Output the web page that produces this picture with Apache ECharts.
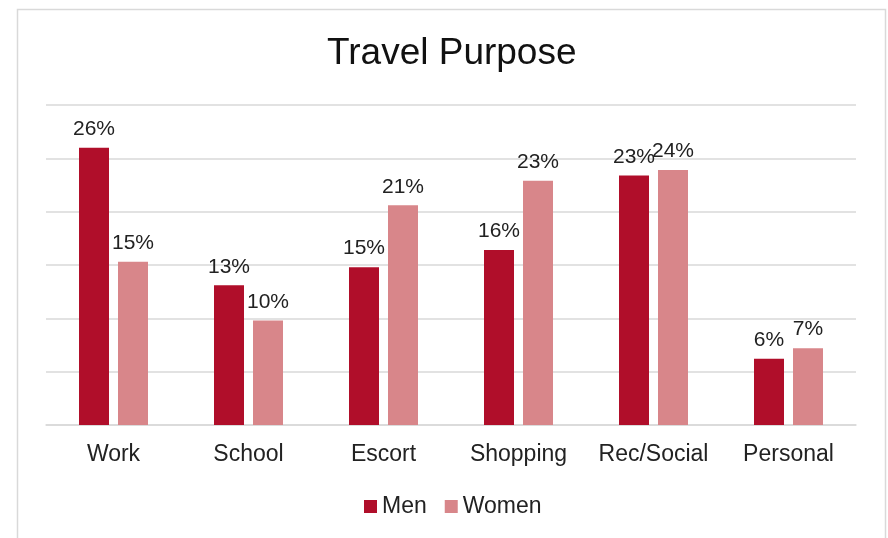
<!DOCTYPE html>
<html><head><meta charset="utf-8">
<script src="https://cdn.jsdelivr.net/npm/echarts@6/dist/echarts.min.js"></script>
<style>html,body{margin:0;padding:0;background:#fff}#c{width:888px;height:538px}</style>
</head><body><div id="c"></div>
<script>
const categories = ['Work','School','Escort','Shopping','Rec/Social','Personal'];
const men = [26.0, 13.1, 14.8, 16.4, 23.4, 6.2];
const women = [15.3, 9.8, 20.6, 22.9, 23.9, 7.2];
const seriesNames = ['Men','Women'];

const chart = echarts.init(document.getElementById('c'));
const font = 'Liberation Sans, Arial, sans-serif';
const lbl = {show:true, position:'top', distance:8, fontSize:21, color:'#222', fontFamily:font,
  formatter: p => Math.round(p.value) + '%'};
chart.setOption({
  animation:false,
  graphic:[{type:'rect', shape:{x:17.5,y:9.5,width:868,height:540}, style:{fill:'none', stroke:'#d9d9d9', lineWidth:1.5}}],
  title:{text:'Travel Purpose', left:322, top:30, textStyle:{fontSize:37, fontWeight:'normal', color:'#111', fontFamily:font}},
  legend:{data:seriesNames, bottom:15, left:359, itemWidth:13, itemHeight:13, itemGap:18, icon:'rect',
    textStyle:{fontSize:23, color:'#222', fontFamily:font}},
  grid:{left:46, right:32, top:105, bottom:113},
  xAxis:{type:'category', data:categories,
    axisLine:{lineStyle:{color:'#d9d9d9', width:1.5}}, axisTick:{show:false},
    axisLabel:{fontSize:23, color:'#222', fontFamily:font, margin:18, interval:0}},
  yAxis:{type:'value', min:0, max:30, interval:5, axisLabel:{show:false}, axisLine:{show:false}, axisTick:{show:false},
    splitLine:{lineStyle:{color:'#d9d9d9', width:1.5}}},
  series:[
    {name:'Men', type:'bar', data:men, barWidth:30, barGap:'30%', itemStyle:{color:'#B00E2A'}, label:lbl},
    {name:'Women', type:'bar', data:women, barWidth:30, itemStyle:{color:'#D8868A'}, label:lbl}
  ]
});
</script></body></html>
